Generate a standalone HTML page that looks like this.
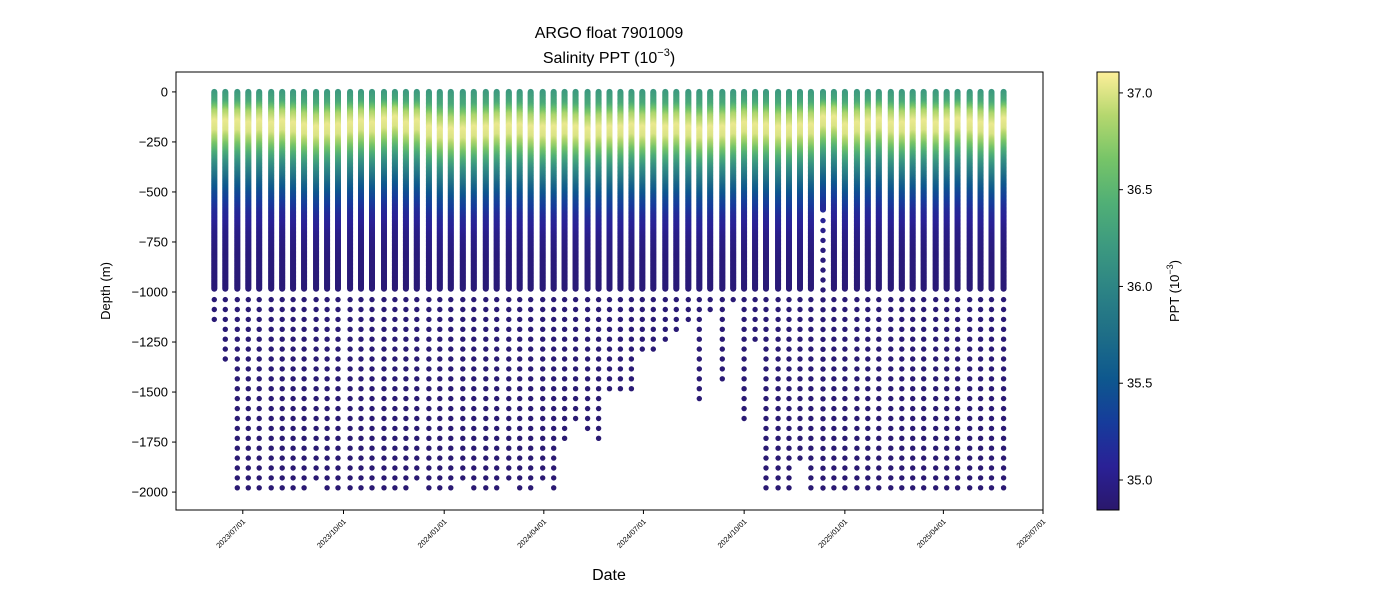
<!DOCTYPE html>
<html><head><meta charset="utf-8"><style>
html,body{margin:0;padding:0;background:#fff;}
svg text{font-family:"Liberation Sans","DejaVu Sans",sans-serif;fill:#000;}
</style></head><body>
<svg id="chart" width="1400" height="600" xmlns="http://www.w3.org/2000/svg">
<text x="609" y="38" font-size="16" text-anchor="middle">ARGO float 7901009</text>
<text x="609" y="63" font-size="16" text-anchor="middle">Salinity PPT (10<tspan dy="-7" font-size="11">−3</tspan><tspan dy="7">)</tspan></text>
<g id="marks"></g>
<rect x="176" y="72" width="867" height="438" fill="none" stroke="#000" stroke-width="1"/>
<g id="yaxis"></g>
<g id="xaxis"></g>
<text transform="translate(110,291) rotate(-90)" font-size="13" text-anchor="middle">Depth (m)</text>
<text x="609" y="580" font-size="16" text-anchor="middle">Date</text>
<defs><linearGradient id="cgrad" x1="0" y1="1" x2="0" y2="0"></linearGradient></defs>
<rect x="1097" y="72" width="22" height="438" fill="url(#cgrad)" stroke="#000" stroke-width="1"/>
<g id="caxis"></g>
<text transform="translate(1179,291) rotate(-90)" font-size="13" text-anchor="middle">PPT (10<tspan dy="-6" font-size="9">−3</tspan><tspan dy="6">)</tspan></text>
</svg>
<script>
// Profile dates: days since 2023-07-01
const profileDays = [-26,-16,-5,5,15,26,36,46,56,67,77,87,98,108,118,129,139,149,159,170,180,190,201,211,222,232,243,253,263,274,284,294,304,315,325,335,345,355,365,375,386,396,407,417,427,438,448,458,468,478,489,499,509,519,530,540,550,561,571,581,592,602,612,622,633,643,653,664,674,684,695];
// Deepest sample (m) per profile
const maxDepths = [1139,1337,1980,1980,1980,1980,1980,1980,1980,1931,1980,1980,1980,1980,1980,1980,1980,1980,1931,1980,1980,1980,1931,1980,1980,1980,1931,1980,1980,1931,1980,1733,1634,1684,1733,1486,1486,1486,1287,1287,1238,1188,1139,1535,1090,1436,1040,1634,1238,1980,1980,1980,1832,1980,1980,1980,1980,1980,1980,1980,1980,1980,1980,1980,1980,1980,1980,1980,1980,1980,1980];
// Bottom of the densely-sampled part (m) per profile
const denseEnds = [985,985,985,985,985,985,985,985,985,985,985,985,985,985,985,985,985,985,985,985,985,985,985,985,985,985,985,985,985,985,985,985,985,985,985,985,985,985,985,985,985,985,985,985,985,985,985,985,985,985,985,985,985,985,590,985,985,985,985,985,985,985,985,985,985,985,985,985,985,985,985];
// Typical salinity profile (depth m -> PPT)
const profDepth = [0,50,100,150,200,250,300,350,400,450,500,600,700,800,1000,2000];
const profSal = [36.2,36.35,36.85,37.05,37.0,36.75,36.45,36.15,35.9,35.65,35.45,35.15,35.0,34.93,34.9,34.88];
// Per-profile depth shift of the halocline (m)
const haloShift = [0,0,0,10,0,10,0,10,20,30,20,20,10,0,10,-10,-20,10,0,30,40,40,40,30,30,20,20,20,30,30,30,20,30,40,30,30,30,20,30,20,30,20,30,40,30,30,20,10,20,20,30,30,20,20,-20,-20,20,10,0,-10,10,10,0,0,10,0,-10,0,10,20,-10];
const yTicks = [0,-250,-500,-750,-1000,-1250,-1500,-1750,-2000];
const xTickLabels = ["2023/07/01","2023/10/01","2024/01/01","2024/04/01","2024/07/01","2024/10/01","2025/01/01","2025/04/01","2025/07/01"];
const xTickDays = [0,92,184,275,366,458,550,640,731];
const cTicks = [35.0,35.5,36.0,36.5,37.0];

const NS="http://www.w3.org/2000/svg";
const X0=176,X1=1043,Y0=72,Y1=510;
const dMin=-61,dMax=731, vTop=99.5, vBot=-2089.5;
const xs=d=>X0+(d-dMin)/(dMax-dMin)*(X1-X0);
const ys=v=>Y0+(vTop-v)/(vTop-vBot)*(Y1-Y0);
const cMin=34.845,cMax=37.108;
const cs=v=>Y1-(v-cMin)/(cMax-cMin)*(Y1-Y0);
const stops=[[0,[42,24,108]],[0.1,[42,33,150]],[0.2,[22,60,155]],[0.3,[14,88,142]],[0.4,[30,110,135]],[0.5,[44,131,133]],[0.6,[60,153,128]],[0.7,[80,175,118]],[0.8,[118,196,104]],[0.9,[180,215,110]],[1,[253,239,154]]];
function cmap(v){let t=(v-cMin)/(cMax-cMin);t=Math.max(0,Math.min(1,t));
 for(let i=1;i<stops.length;i++){if(t<=stops[i][0]){const a=stops[i-1],b=stops[i];const f=(t-a[0])/(b[0]-a[0]);
 const c=a[1].map((x,k)=>Math.round(x+(b[1][k]-x)*f));return `rgb(${c[0]},${c[1]},${c[2]})`;}}return 'rgb(253,239,154)';}
function sal(d){for(let i=1;i<profDepth.length;i++){if(d<=profDepth[i]){const f=(d-profDepth[i-1])/(profDepth[i]-profDepth[i-1]);return profSal[i-1]+(profSal[i]-profSal[i-1])*f;}}return profSal[profSal.length-1];}
function mk(tag,attrs,parent){const e=document.createElementNS(NS,tag);for(const k in attrs)e.setAttribute(k,attrs[k]);parent.appendChild(e);return e;}

const g=document.getElementById('cgrad');
for(let i=0;i<=20;i++){const t=i/20;const s=document.createElementNS(NS,'stop');s.setAttribute('offset',t);s.setAttribute('stop-color',cmap(cMin+t*(cMax-cMin)));g.appendChild(s);}

const marks=document.getElementById('marks');
profileDays.forEach((day,i)=>{
 const grp=document.createElementNS(NS,'g');
 
 
 marks.appendChild(grp);
 const cx=xs(day).toFixed(1);
 let html='';
 for(let d=0;d<=denseEnds[i];d+=4){
  const s=sal(Math.max(0,d-haloShift[i]*Math.min(1,d/150)));
  html+=`<circle cx="${cx}" cy="${ys(-d).toFixed(1)}" r="3" fill="${cmap(s)}"/>`;
 }
 for(let d=denseEnds[i]+53;d<=maxDepths[i]+5;d+=49.5){
  html+=`<circle cx="${cx}" cy="${ys(-d).toFixed(1)}" r="2.7" fill="${cmap(sal(d))}"/>`;
 }
 grp.innerHTML=html;
});

const ya=document.getElementById('yaxis');
yTicks.forEach(v=>{const y=ys(v);
 mk('line',{x1:X0-4,x2:X0,y1:y,y2:y,stroke:'#000'},ya);
 const t=mk('text',{x:X0-8,y:y+4.5,'font-size':13,'text-anchor':'end'},ya);
 
 
 t.textContent=String(v).replace('-','−');});
const xa=document.getElementById('xaxis');
xTickDays.forEach((d,i)=>{const x=xs(d);
 mk('line',{x1:x,x2:x,y1:Y1,y2:Y1+4,stroke:'#000'},xa);
 const t=mk('text',{transform:`translate(${x+3},${Y1+12}) rotate(-45)`,'font-size':7.5,'text-anchor':'end'},xa);
 
 
 t.textContent=xTickLabels[i];});
const ca=document.getElementById('caxis');
cTicks.forEach(v=>{const y=cs(v);
 mk('line',{x1:1119,x2:1123,y1:y,y2:y,stroke:'#000'},ca);
 const t=mk('text',{x:1127,y:y+4.5,'font-size':13},ca);
 
 
 t.textContent=v.toFixed(1);});
</script>
</body></html>
